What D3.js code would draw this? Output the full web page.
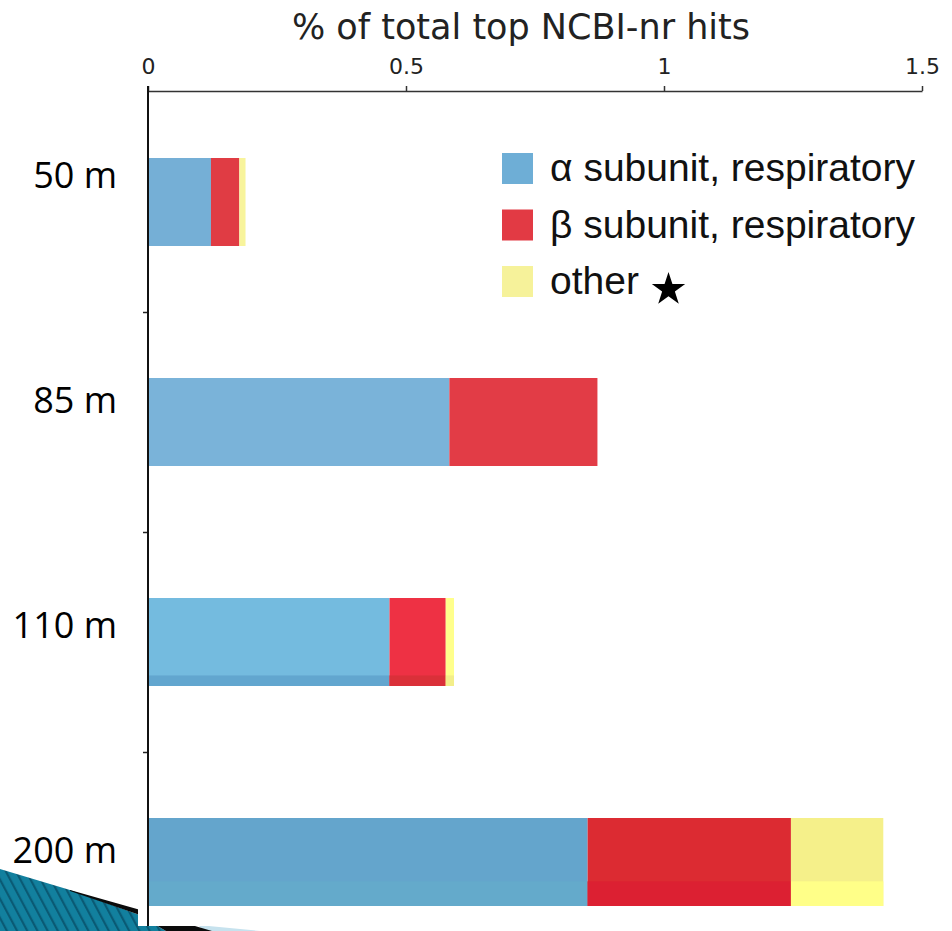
<!DOCTYPE html>
<html>
<head>
<meta charset="utf-8">
<script src="https://cdn.jsdelivr.net/npm/d3@7"></script>
<style>
  html, body { margin: 0; padding: 0; background: #fff; }
  svg { display: block; }
</style>
</head>
<body>
<svg id="chart" width="952" height="931"></svg>
<script>
// ---- data -------------------------------------------------------------
const depths = ["50 m", "85 m", "110 m", "200 m"];
const alphaSubunit = [0.122, 0.584, 0.468, 0.852];   // α subunit, respiratory
const betaSubunit  = [0.055, 0.287, 0.109, 0.394];   // β subunit, respiratory
const otherHits    = [0.012, 0.000, 0.016, 0.179];   // other
const seriesKeys   = ["alpha", "beta", "other"];
const seriesLabels = ["α subunit, respiratory", "β subunit, respiratory", "other"];
const xTickValues  = [0, 0.5, 1, 1.5];
const xTickLabels  = ["0", "0.5", "1", "1.5"];
const axisTitle    = "% of total top NCBI-nr hits";

// ---- styles -----------------------------------------------------------
const legendColors = { alpha: "#6eaed6", beta: "#e23a44", other: "#f6f29a" };
// each depth's bar was coloured separately, so the shades vary slightly
const rowColors = {
  "50 m":  { alpha: "#75afd6", beta: "#e03c44", other: "#f8f49c" },
  "85 m":  { alpha: "#7ab3d9", beta: "#e23c46", other: "#f8f49c" },
  "110 m": { alpha: "#74bbdf", beta: "#ee3144", other: "#ffff8c" },
  "200 m": { alpha: "#64a5cc", beta: "#dc2b32", other: "#f5f08a" }
};
// lower band of some bars is printed in a second shade
const lowerBand = {
  "110 m": { frac: 0.12, alpha: "#62a6cf", beta: "#da3039", other: "#f3ee8a" },
  "200 m": { frac: 0.28, alpha: "#64aacb", beta: "#dc2032", other: "#ffff88" }
};

const svg = d3.select("#chart");
const W = 952, H = 931;

// ---- slide decoration (bottom-left swoosh) ---------------------------
const defs = svg.append("defs");
const pat = defs.append("pattern")
  .attr("id", "stripes")
  .attr("patternUnits", "userSpaceOnUse")
  .attr("width", 9).attr("height", 9)
  .attr("patternTransform", "rotate(-28)");
pat.append("rect").attr("width", 9).attr("height", 9).attr("fill", "#12809e");
pat.append("rect").attr("width", 2.2).attr("height", 9).attr("fill", "#0a5a74");

const line = d3.line();
svg.append("path")
  .attr("d", line([[198, 925], [260, 931], [204, 931]]) + "Z")
  .attr("fill", "#c6e2ee");
svg.append("path")
  .attr("d", line([[0, 869], [70, 890], [137, 914], [166, 931], [0, 931]]) + "Z")
  .attr("fill", "url(#stripes)");
svg.append("path")
  .attr("d", line([[70, 890], [137, 909], [212, 931], [166, 931], [137, 914], [70, 891]]) + "Z")
  .attr("fill", "#0b0b0b");

// white chart panel laid over the slide
svg.append("rect")
  .attr("x", 138).attr("y", 0)
  .attr("width", W - 138).attr("height", 926)
  .attr("fill", "#fff");

// ---- scales -----------------------------------------------------------
const x = d3.scaleLinear().domain([0, 1.5]).range([148, 922]);
const y = d3.scaleBand().domain(depths).range([92, 972])
  .paddingInner(0.6).paddingOuter(0.3);
const labelY = d3.scalePoint().domain(depths).range([188, 863]);
const boundary = d3.scaleLinear().domain([0, depths.length]).range([92, 972]);

// ---- stacked bars -----------------------------------------------------
const rows = depths.map((d, i) => ({
  depth: d, alpha: alphaSubunit[i], beta: betaSubunit[i], other: otherHits[i]
}));
const stacked = d3.stack().keys(seriesKeys)(rows);

const chart = svg.append("g");
stacked.forEach(layer => {
  const key = layer.key;
  chart.append("g").selectAll("rect")
    .data(layer.filter(s => s[1] - s[0] > 0))
    .join("rect")
      .attr("x", s => x(s[0]))
      .attr("y", s => y(s.data.depth))
      .attr("width", s => x(s[1]) - x(s[0]))
      .attr("height", y.bandwidth())
      .attr("fill", s => rowColors[s.data.depth][key]);

  chart.append("g").selectAll("rect")
    .data(layer.filter(s => s[1] - s[0] > 0 && lowerBand[s.data.depth]))
    .join("rect")
      .attr("x", s => x(s[0]))
      .attr("y", s => y(s.data.depth) + y.bandwidth() * (1 - lowerBand[s.data.depth].frac))
      .attr("width", s => x(s[1]) - x(s[0]))
      .attr("height", s => y.bandwidth() * lowerBand[s.data.depth].frac)
      .attr("fill", s => lowerBand[s.data.depth][key]);
});

// ---- axes -------------------------------------------------------------
const axisFont = "'DejaVu Sans', Verdana, sans-serif";

const xAxis = svg.append("g")
  .attr("transform", "translate(0,91)")
  .call(d3.axisTop(x)
    .tickValues(xTickValues)
    .tickFormat((d, i) => xTickLabels[i])
    .tickSize(5).tickSizeOuter(0).tickPadding(12));
xAxis.select(".domain").attr("stroke", "#333").attr("stroke-width", 1.5);
xAxis.selectAll(".tick line").attr("stroke", "#333").attr("stroke-width", 1.5);
xAxis.selectAll(".tick text")
  .attr("fill", "#222")
  .style("font-family", axisFont)
  .style("font-size", "22px");

const yAxis = svg.append("g")
  .attr("transform", "translate(148,0)")
  .call(d3.axisLeft(boundary).tickValues([1, 2, 3]).tickSize(5).tickFormat(""));
yAxis.select(".domain").remove();
yAxis.selectAll(".tick line").attr("stroke", "#222").attr("stroke-width", 1.5);
svg.append("line")
  .attr("x1", 148).attr("x2", 148)
  .attr("y1", 86).attr("y2", 926)
  .attr("stroke", "#111").attr("stroke-width", 2);

svg.append("text")
  .attr("x", 521).attr("y", 39)
  .attr("text-anchor", "middle")
  .style("font-family", axisFont)
  .style("font-size", "35px")
  .attr("fill", "#222")
  .text(axisTitle);

// ---- depth labels -----------------------------------------------------
svg.append("g").selectAll("text")
  .data(depths)
  .join("text")
    .attr("x", 117)
    .attr("y", d => labelY(d))
    .attr("text-anchor", "end")
    .style("font-family", "'Open Sans', 'Noto Sans', sans-serif")
    .style("font-size", "36px")
    .attr("fill", "#000")
    .text(d => d);

// ---- legend -----------------------------------------------------------
const legend = svg.append("g").attr("transform", "translate(502,153)");
const lg = legend.selectAll("g")
  .data(seriesKeys)
  .join("g")
    .attr("transform", (d, i) => `translate(0,${i * 56.5})`);
lg.append("rect")
  .attr("width", 31).attr("height", 31)
  .attr("fill", d => legendColors[d]);
lg.append("text")
  .attr("x", 48).attr("y", 28)
  .style("font-family", "'Liberation Sans', Arial, sans-serif")
  .style("font-size", "39px")
  .attr("fill", "#111")
  .text((d, i) => seriesLabels[i]);

legend.append("path")
  .attr("transform", "translate(166.5,136.5)")
  .attr("d", d3.symbol(d3.symbolStar).size(345)())
  .attr("fill", "#000");
</script>
</body>
</html>
